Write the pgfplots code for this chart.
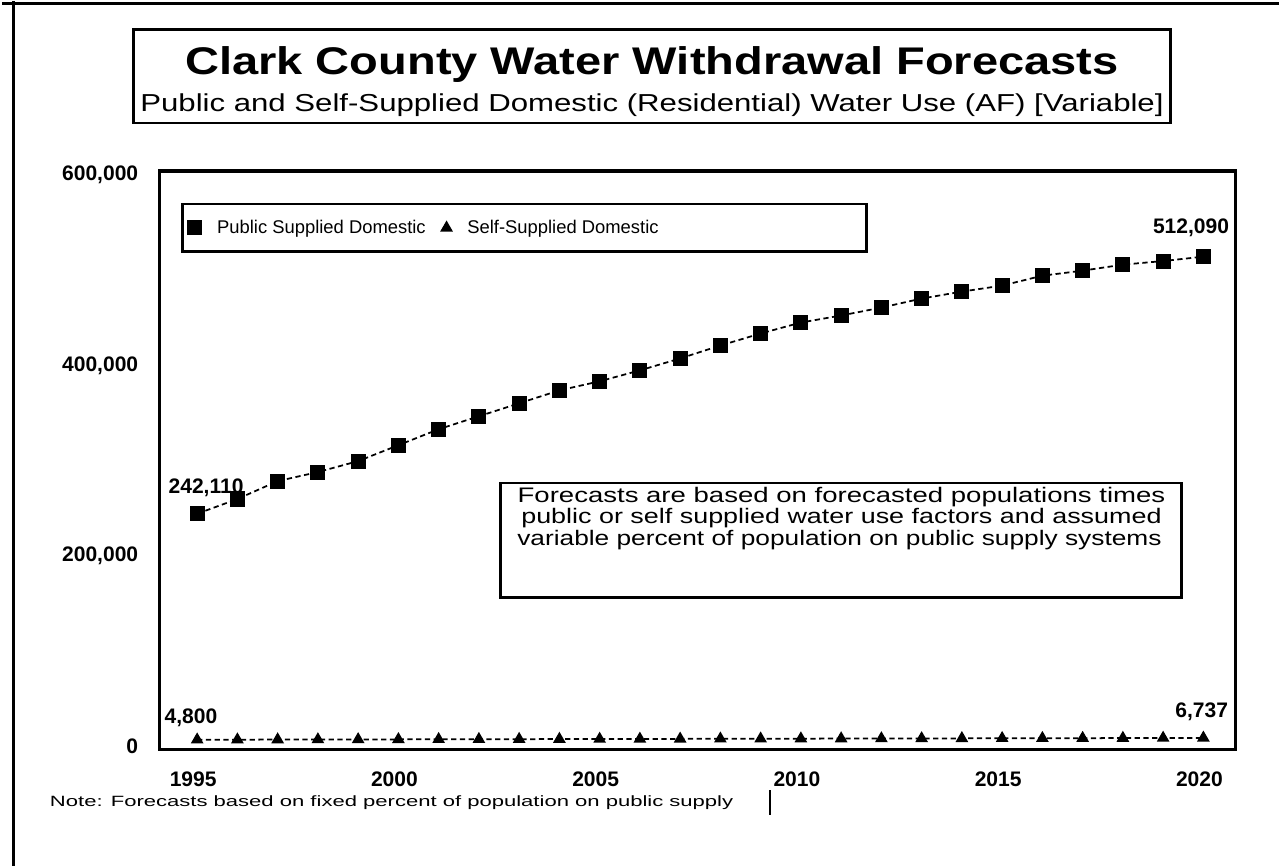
\documentclass[border=0pt]{standalone}
\usepackage{graphicx}
\usepackage{pgfplots}
\pgfplotsset{compat=1.18}
\usepackage{fontspec}
\setmainfont{Liberation Sans}

\begin{document}
\begin{tikzpicture}[px/.style={x=0.02cm,y=-0.02cm,shift={(-158,-750)}}]
\begin{scope}[px]
\useasboundingbox (0,0) rectangle (1281,867);
\end{scope}
\begin{axis}[
  at={(0,0)}, anchor=south west,
  scale only axis, width=21.58cm, height=11.6cm,
  xmin=1994.06, xmax=2020.79, ymin=-5200, ymax=602100,
  xtick={1995,2000,2005,2010,2015,2020},
  xticklabels={1995,2000,2005,2010,2015,2020},
  ytick={0,200000,400000,600000},
  scaled y ticks=false,
  /pgf/number format/assume math mode=true,
  tick style={draw=none},
  ticklabel style={font=\fontsize{12}{12}\selectfont\bfseries},
  xticklabel style={yshift=-0.33cm, xshift=-0.08cm},
  yticklabel style={xshift=-0.3cm, yshift=-0.04cm, /pgf/number format/fixed, /pgf/number format/1000 sep={,}},
  axis line style={line width=1.8pt},
  clip=false,
  legend columns=2,
  legend style={at={(0.0204,0.945)}, anchor=north west, draw=black, line width=1.5pt,
    font=\fontsize{10.5}{12}\selectfont, column sep=0.25cm, inner ysep=7pt},
  legend image code/.code={\draw[#1, only marks] plot coordinates {(0.15cm,0cm)};},
]
\addplot[black, densely dashed, line width=1pt, mark=square*, mark size=3.8pt, mark options={solid}] coordinates {
  (1995,242110) (1996,257600) (1997,276400) (1998,285900) (1999,297400)
  (2000,314100) (2001,330900) (2002,344500) (2003,358100) (2004,371700)
  (2005,381200) (2006,392700) (2007,405200) (2008,418800) (2009,431400)
  (2010,442900) (2011,450300) (2012,458600) (2013,468100) (2014,475400)
  (2015,481700) (2016,492100) (2017,497400) (2018,503700) (2019,507500)
  (2020,512090)
};
\addlegendentry{Public Supplied Domestic}
\addplot[black, densely dashed, line width=1pt, mark=triangle*, mark size=3.2pt, mark options={solid}] coordinates {
  (1995,4800) (1996,4880) (1997,4960) (1998,5030) (1999,5110)
  (2000,5190) (2001,5260) (2002,5340) (2003,5410) (2004,5490)
  (2005,5560) (2006,5640) (2007,5710) (2008,5790) (2009,5860)
  (2010,5940) (2011,6010) (2012,6090) (2013,6160) (2014,6240)
  (2015,6310) (2016,6390) (2017,6460) (2018,6540) (2019,6620)
  (2020,6737)
};
\addlegendentry{Self-Supplied Domestic\hspace*{4cm}\mbox{}}
\end{axis}
\begin{scope}[px]
\draw[line width=1.5pt] (12,0) -- (12,867);
\draw[line width=2pt] (0,2) -- (1281,2);
\draw[line width=1.5pt] (132,28) rectangle (1172,122);
\node[font=\fontsize{22}{24}\selectfont\bfseries] at (652,63) {\scalebox{1.22}[1]{Clark County Water Withdrawal Forecasts}};
\node[font=\fontsize{14}{16}\selectfont] at (652,104) {\scalebox{1.27}[1]{Public and Self-Supplied Domestic (Residential) Water Use (AF) [Variable]}};
\draw[line width=1.5pt, fill=white] (500,483) rectangle (1183,598);
\node[inner sep=0pt, font=\fontsize{12}{12}\selectfont] at (842,497) {\scalebox{1.31}[1]{Forecasts are based on forecasted populations times}};
\node[inner sep=0pt, font=\fontsize{12}{12}\selectfont] at (842,518) {\scalebox{1.28}[1]{public or self supplied water use factors and assumed}};
\node[inner sep=0pt, font=\fontsize{12}{12}\selectfont] at (840,540) {\scalebox{1.25}[1]{variable percent of population on public supply systems}};
\node[anchor=west, inner sep=0pt, font=\fontsize{12}{12}\selectfont\bfseries] at (167,488) {242,110};
\node[anchor=east, inner sep=0pt, font=\fontsize{12}{12}\selectfont\bfseries] at (1231,227) {512,090};
\node[anchor=west, inner sep=0pt, font=\fontsize{12}{12}\selectfont\bfseries] at (163,718) {4,800};
\node[anchor=east, inner sep=0pt, font=\fontsize{12}{12}\selectfont\bfseries] at (1230,712) {6,737};
\node[anchor=west, inner sep=0pt, font=\fontsize{8.5}{9}\selectfont] at (48,804) {\scalebox{1.48}[1]{Note: Forecasts based on fixed percent of population on public supply}};
\draw[line width=1.2pt] (770,791) -- (770,816);
\end{scope}
\end{tikzpicture}
\end{document}
